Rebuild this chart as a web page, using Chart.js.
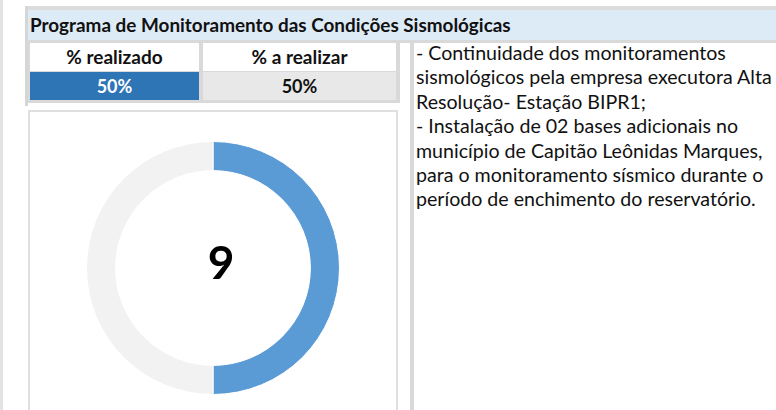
<!DOCTYPE html>
<html lang="pt-BR">
<head>
<meta charset="utf-8">
<script src="https://cdn.jsdelivr.net/npm/chart.js@4.4.0/dist/chart.umd.min.js"></script>
<style>
  html, body { margin: 0; padding: 0; background: #fff; }
  body { width: 776px; height: 410px; position: relative; overflow: hidden; font-family: Lato, "Noto Sans", sans-serif; color: #111; }
  .abs { position: absolute; box-sizing: border-box; }
  #leftStrip { left: 0; top: 0; width: 3px; height: 410px; background: #e3e3e3; }
  #frameLeft { left: 25px; top: 6px; width: 3px; height: 100px; background: #d6d6d6; }
  #frameTop { left: 25px; top: 6px; width: 751px; height: 4px; background: #dcdcdc; }
  #header { left: 28px; top: 10px; width: 748px; height: 30px; background: #ddebf7; font-weight: 700; font-size: 18.9px; line-height: 30px; padding-left: 2px; white-space: nowrap; }
  #headerLine { left: 28px; top: 40px; width: 748px; height: 3px; background: #d9d9d9; }
  .cell { font-weight: 700; font-size: 19px; text-align: center; line-height: 28px; height: 28px; }
  #tableBg { left: 28px; top: 40px; width: 372px; height: 63px; background: #d9d9d9; }
  #c1 { left: 30px; top: 43px; width: 169px; background: #fff; }
  #c2 { left: 203px; top: 43px; width: 193px; background: #fff; }
  #c3 { left: 30px; top: 72px; width: 169px; background: #2e75b6; color: #fff; font-size: 18px; }
  #c4 { left: 203px; top: 72px; width: 193px; background: #e8e8e8; font-size: 18px; }
  #chartBox { left: 28px; top: 110px; width: 370px; height: 310px; border: 2px solid #e0e0e0; background: #fff; }
  #chartWrap { left: 86px; top: 141px; width: 254px; height: 254px; }
  #centerLabel { left: 171px; top: 230px; width: 100px; height: 64px; text-align: center; font-weight: 700; font-size: 46px; line-height: 64px; color: #000; }
  #textCol { left: 410px; top: 43px; width: 4px; height: 367px; background: #d9d9d9; }
  #notes { left: 416px; top: 41px; width: 360px; font-size: 19.6px; line-height: 24.4px; color: #111; white-space: nowrap; }
</style>
</head>
<body>
<div class="abs" id="leftStrip"></div>
<div class="abs" id="frameTop"></div>
<div class="abs" id="frameLeft"></div>
<div class="abs" id="header">Programa de Monitoramento das Condições Sismológicas</div>
<div class="abs" id="headerLine"></div>
<div class="abs" id="tableBg"></div>
<div class="abs cell" id="c1">% realizado</div>
<div class="abs cell" id="c2">% a realizar</div>
<div class="abs cell" id="c3">50%</div>
<div class="abs cell" id="c4">50%</div>
<div class="abs" id="chartBox"></div>
<div class="abs" id="chartWrap"><canvas id="donut"></canvas></div>
<div class="abs" id="centerLabel">9</div>
<div class="abs" id="textCol"></div>
<div class="abs" id="notes">
  - Continuidade dos monitoramentos<br>
  sismológicos pela empresa executora Alta<br>
  Resolução- Estação BIPR1;<br>
  - Instalação de 02 bases adicionais no<br>
  município de Capitão Leônidas Marques,<br>
  para o monitoramento sísmico durante o<br>
  período de enchimento do reservatório.
</div>
<script>
const labels = ["% realizado", "% a realizar"];
const values = [50, 50];
const colors = ["#5b9bd5", "#f2f2f2"];

const ctx = document.getElementById("donut").getContext("2d");
new Chart(ctx, {
  type: "doughnut",
  data: {
    labels: labels,
    datasets: [{
      data: values,
      backgroundColor: colors,
      borderColor: "#ffffff",
      borderWidth: 1
    }]
  },
  options: {
    responsive: true,
    maintainAspectRatio: false,
    animation: false,
    cutout: "77%",
    layout: { padding: 0 },
    plugins: {
      legend: { display: false },
      tooltip: { enabled: false }
    }
  }
});
</script>
</body>
</html>
